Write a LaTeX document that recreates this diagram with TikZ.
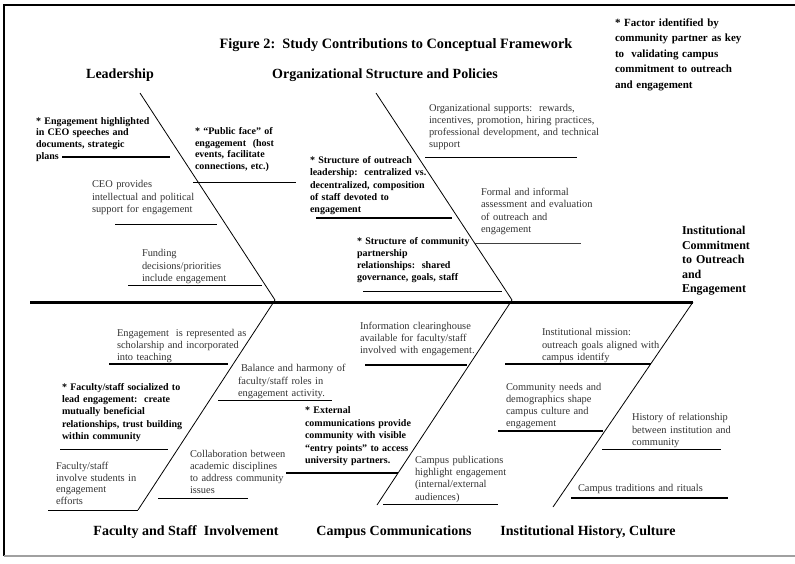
\documentclass[tikz,border=0pt]{standalone}
\usepackage{fontspec}
\setmainfont{Liberation Serif}
\definecolor{txtgray}{HTML}{333333}
\definecolor{framegray}{HTML}{A0A0A0}
\begin{document}
\begin{tikzpicture}[x=1pt,y=-1pt,
  every node/.style={inner sep=0pt,outer sep=0pt},
  plain/.style={anchor=base west,text width=230pt,align=left,text=txtgray,
    font=\fontsize{10.4}{#1}\selectfont},
  plain/.default=12,
  boldnote/.style={anchor=base west,text width=230pt,align=left,text=black,
    font=\fontsize{10}{#1}\selectfont\bfseries},
  boldnote/.default=12,
  head/.style={anchor=base,font=\fontsize{14}{16}\selectfont\bfseries},
  spine/.style={line width=3pt},
  bone/.style={line width=0.8pt},
  ribthick/.style={line width=2.2pt},
  ribthin/.style={line width=1pt},
  ribgray/.style={line width=1pt,draw=black!75}]

\useasboundingbox (0,0) rectangle (795,563);

% frame
\draw[line width=1.5pt] (4,556) -- (4,5) -- (795,5);
\draw[line width=1.5pt,framegray] (4,556) -- (795,556);

% title and category headings
\node[head,font=\fontsize{14.3}{16}\selectfont\bfseries] (title) at (396,48)
  {Figure 2:\ \ Study Contributions to Conceptual Framework};
\node[head] (hLead) at (120,78) {Leadership};
\node[head] (hOrg) at (385,78) {Organizational Structure and Policies};
\node[head] (hFac) at (186,535) {Faculty and Staff\ \ Involvement};
\node[head] (hCom) at (394,535) {Campus Communications};
\node[head] (hHist) at (588,535) {Institutional History, Culture};

% effect
\node[boldnote=14.5,font=\fontsize{12}{14.5}\selectfont\bfseries] (effect) at (682,234.5)
  {Institutional\\Commitment\\to Outreach\\and\\Engagement};

% legend
\node[boldnote=15.5,font=\fontsize{11}{15.5}\selectfont\bfseries] (legend) at (615,26)
  {* Factor identified by\\community partner as key\\to\ \ validating campus\\commitment to outreach\\and engagement};

% skeleton: spine and bones
\coordinate (sL) at (30,302);
\coordinate (sR) at (693,302);
\coordinate (apexA) at (275,300);
\coordinate (apexB) at (512,300);
\coordinate (topA) at (140,93);
\coordinate (topB) at (376,93);
\coordinate (botA) at (138,510);
\coordinate (botB) at (377,505);
\coordinate (botC) at (553,507);
\draw[spine] (sL) -- (sR);
\draw[bone] (topA) -- (apexA) -- (botA);
\draw[bone] (topB) -- (apexB) -- (botB);
\draw[bone] (sR) -- (botC);

% Leadership causes
\node[boldnote=11.7] (c1) at (36,124)
  {* Engagement highlighted\\in CEO speeches and\\documents, strategic\\plans};
\draw[ribthick] (62,157) -- (170,157);
\node[boldnote=11.7] (c2) at (195,134.5)
  {* ``Public face'' of\\engagement\ \ (host\\events, facilitate\\connections, etc.)};
\draw[ribthin] (193,182) -- (296,182);
\node[plain=12.5] (c3) at (92,187.5)
  {CEO provides\\intellectual and political\\support for engagement};
\draw[ribthin] (115,224) -- (217,224);
\node[plain=12.5] (c4) at (142,256.5)
  {Funding\\decisions/priorities\\include engagement};
\draw[ribthin] (128,285) -- (262,285);

% Organizational structure causes
\node[plain=12] (c7) at (429,111.5)
  {Organizational supports:\ \ rewards,\\incentives, promotion, hiring practices,\\professional development, and technical\\support};
\draw[ribthin] (425,157) -- (577,157);
\node[boldnote=12.3] (c5) at (310,163.5)
  {* Structure of outreach\\leadership:\ \ centralized vs.\\decentralized, composition\\of staff devoted to\\engagement};
\draw[ribthick] (316,218) -- (452,218);
\node[plain=12.3] (c8) at (481,195.5)
  {Formal and informal\\assessment and evaluation\\of outreach and\\engagement};
\draw[ribgray] (475,243) -- (581,243);
\node[boldnote=12] (c6) at (357,244.5)
  {* Structure of community\\partnership\\relationships:\ \ shared\\governance, goals, staff};
\draw[ribthin] (363,291) -- (502,291);

% Faculty and staff causes
\node[plain=12] (c11) at (117,336.5)
  {Engagement\ \ is represented as\\scholarship and incorporated\\into teaching};
\draw[ribthick] (109,364) -- (228,364);
\node[plain=12.5] (c12) at (238,371.5)
  {\hspace{3pt}Balance and harmony of\\faculty/staff roles in\\engagement activity.};
\draw[ribthin] (218,400) -- (332,400);
\node[boldnote=12.2] (c13) at (62,390.5)
  {* Faculty/staff socialized to\\lead engagement:\ \ create\\mutually beneficial\\relationships, trust building\\within community};
\draw[ribthin] (60,449) -- (168,449);
\node[plain=11.7] (c14) at (56,469.5)
  {Faculty/staff\\involve students in\\engagement\\efforts};
\draw[ribthin] (48,510) -- (botA);
\node[plain=12] (c15) at (190,457.5)
  {Collaboration between\\academic disciplines\\to address community\\issues};
\draw[ribthin] (158,498) -- (248,498);

% Campus communications causes
\node[plain=12] (c16) at (360,329.5)
  {Information clearinghouse\\available for faculty/staff\\involved with engagement.};
\draw[ribthick] (365,365) -- (467,365);
\node[boldnote=12.5] (c17) at (305,413.5)
  {* External\\communications provide\\community with visible\\``entry points'' to access\\university partners.};
\draw[ribthick] (286,473) -- (398,473);
\node[plain=12.2] (c18) at (415,463.5)
  {Campus publications\\highlight engagement\\(internal/external\\audiences)};
\draw[ribthin] (383,504) -- (498,504);

% Institutional history causes
\node[plain=12.5] (c19) at (542,335.5)
  {Institutional mission:\\outreach goals aligned with\\campus identify};
\draw[ribthick] (505,364) -- (651,364);
\node[plain=12] (c20) at (506,390.5)
  {Community needs and\\demographics shape\\campus culture and\\engagement};
\draw[ribthick] (498,431) -- (603,431);
\node[plain=12.5] (c21) at (632,420.5)
  {History of relationship\\between institution and\\community};
\draw[ribthin] (602,449) -- (721,449);
\node[plain] (c22) at (578,491.5) {Campus traditions and rituals};
\draw[ribthick] (571,498) -- (728,498);

\end{tikzpicture}
\end{document}
